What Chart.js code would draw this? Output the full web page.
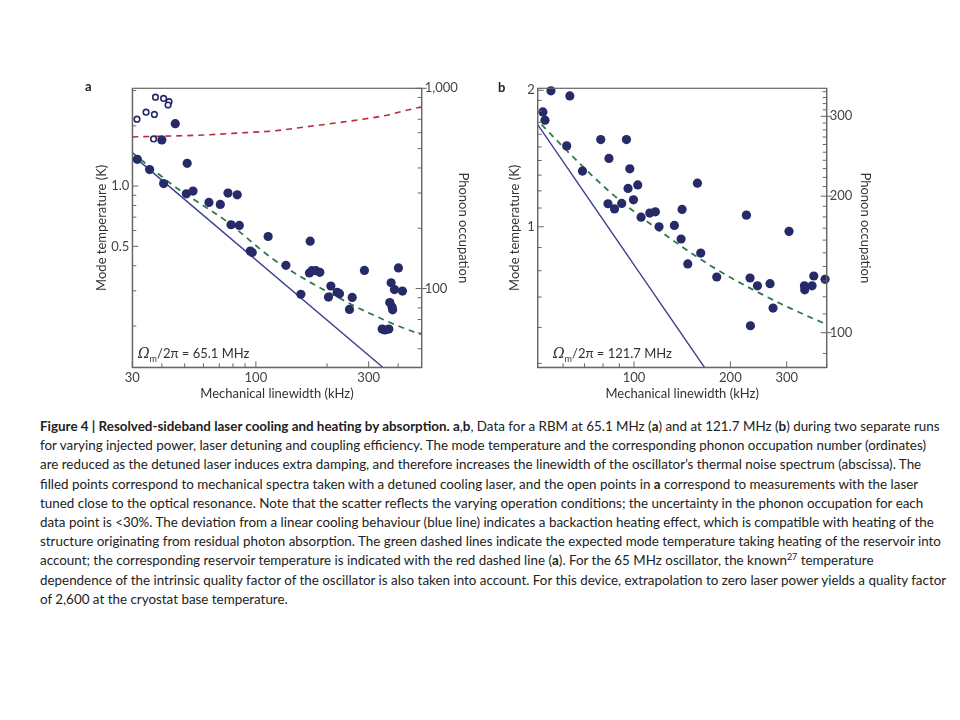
<!DOCTYPE html>
<html>
<head>
<meta charset="utf-8">
<script src="https://cdn.jsdelivr.net/npm/chart.js@4.4.1/dist/chart.umd.min.js"></script>
<style>
  body { margin: 0; background: #fff; width: 960px; height: 720px; position: relative; overflow: hidden; font-family: Lato, "Noto Sans", sans-serif; }
  canvas { position: absolute; }
  .panel { position: absolute; font-weight: bold; font-size: 13px; color: #222; }
  .om { position: absolute; font-size: 13px; color: #333; white-space: nowrap; line-height: 16px; }
  .om i { font-size: 14px; font-family: "DejaVu Serif", serif; }
  .om sub { font-size: 9px; }
  .cap { position: absolute; left: 40px; top: 417px; font-size: 13.4px; line-height: 19.2px; color: #222; white-space: nowrap; }
  .cap sup { font-size: 9px; line-height: 0; }
</style>
</head>
<body>
<canvas id="chartA" width="400" height="328" style="left:80px;top:76px;width:400px;height:328px"></canvas>
<canvas id="chartB" width="400" height="328" style="left:490px;top:76px;width:400px;height:328px"></canvas>
<div class="panel" style="left:85px;top:78px">a</div>
<div class="panel" style="left:498px;top:79px">b</div>
<div class="om" style="left:138px;top:345px"><i>Ω</i><sub>m</sub>/2π = 65.1 MHz</div>
<div class="om" style="left:553px;top:345px"><i>Ω</i><sub>m</sub>/2π = 121.7 MHz</div>
<div class="cap">
<b>Figure 4 | Resolved-sideband laser cooling and heating by absorption. a</b>,<b>b</b>, Data for a RBM at 65.1 MHz (<b>a</b>) and at 121.7 MHz (<b>b</b>) during two separate runs<br>
for varying injected power, laser detuning and coupling efficiency. The mode temperature and the corresponding phonon occupation number (ordinates)<br>
are reduced as the detuned laser induces extra damping, and therefore increases the linewidth of the oscillator’s thermal noise spectrum (abscissa). The<br>
filled points correspond to mechanical spectra taken with a detuned cooling laser, and the open points in <b>a</b> correspond to measurements with the laser<br>
tuned close to the optical resonance. Note that the scatter reflects the varying operation conditions; the uncertainty in the phonon occupation for each<br>
data point is &lt;30%. The deviation from a linear cooling behaviour (blue line) indicates a backaction heating effect, which is compatible with heating of the<br>
structure originating from residual photon absorption. The green dashed lines indicate the expected mode temperature taking heating of the reservoir into<br>
account; the corresponding reservoir temperature is indicated with the red dashed line (<b>a</b>). For the 65 MHz oscillator, the known<sup>27</sup> temperature<br>
dependence of the intrinsic quality factor of the oscillator is also taken into account. For this device, extrapolation to zero laser power yields a quality factor<br>
of 2,600 at the cryostat base temperature.
</div>
<script>
// ---- panel a (65.1 MHz) : [linewidth kHz, mode temperature K]
var aFilled = [[40.0,1.70],[45.6,2.05],[31.5,1.36],[35.5,1.21],[40.7,1.03],[51.2,1.30],[50.8,0.915],[54.2,0.944],
  [63.3,0.829],[70.7,0.810],[76.2,0.923],[83.4,0.905],[78.5,0.641],[85.1,0.636],[94.7,0.474],[96.5,0.466],
  [112.7,0.560],[169.7,0.531],[134,0.402],[155,0.288],[168.5,0.368],[172.5,0.378],[179.4,0.378],[186.5,0.371],
  [207.6,0.317],[202.8,0.279],[220.8,0.295],[225.8,0.290],[248.9,0.242],[255.5,0.278],[287.9,0.379],
  [342.2,0.193],[351.3,0.191],[365.2,0.193],[368.6,0.262],[377,0.249],[379,0.241],[373.5,0.329],[401,0.390],
  [385.8,0.304],[417,0.299]];
var aOpen = [[31.4,2.16],[34.3,2.34],[37.2,2.28],[37.6,2.78],[40.7,2.74],[42.9,2.64],[42.5,2.54],[36.9,1.72]];
var aBlue = [[31.5,1.36],[344,0.1244]];
var aGreen = [[30,1.47],[45.6,0.99],[74,0.676],[117,0.436],[159,0.346],[220,0.28],[304,0.231],[478,0.185],[503,0.182]];
var aRed = [[30,1.76],[60,1.80],[90,1.85],[121,1.89],[159,1.97],[220,2.07],[300,2.18],[358,2.26],[420,2.37],[503,2.49]];

var aXTicks = [30,40,50,60,70,80,90,100,200,300,400];
var aXLabels = ['30','','','','','','','100','','300',''];
var aYTicks = [0.2,0.3,0.4,0.5,0.6,0.7,0.8,0.9,1,2,3];
var aYLabels = ['','','','0.5','','','','','1.0','',''];
var aY2Ticks = [50,60,70,80,90,100,200,300,400,500,600,700,800,900,1000];
var aY2Labels = ['','','','','','100','','','','','','','','','1,000'];

// ---- panel b (121.7 MHz)
var bFilled = [[55.0,1.994],[63.0,1.943],[51.9,1.792],[52.7,1.718],[61.6,1.508],[78.7,1.557],[94.7,1.557],
  [83.5,1.415],[69.0,1.327],[97.0,1.342],[95.8,1.215],[102.7,1.237],[99.6,1.147],[82.9,1.124],[86.9,1.095],
  [91.5,1.126],[105.2,1.050],[112.0,1.072],[116.6,1.079],[119.7,1.0],[133.7,1.007],[141.3,1.092],[140.3,0.940],
  [157.8,1.248],[161.6,0.875],[147.2,0.828],[181.3,0.775],[224.5,1.061],[230.4,0.771],[243,0.741],[266.1,0.749],
  [271.9,0.662],[231.1,0.605],[305,0.977],[340.8,0.741],[341.5,0.726],[360,0.741],[364.5,0.779],[395.3,0.766]];
var bBlue = [[50,1.68],[166,0.49]];
var bGreen = [[51.4,1.68],[61.5,1.475],[84,1.194],[117.5,0.992],[172.5,0.823],[247,0.714],[390,0.614],[400,0.61]];

var bXTicks = [60,70,80,90,100,200,300,400];
var bXLabels = ['','','','','100','200','300',''];
var bYTicks = [0.5,0.6,0.7,0.8,0.9,1,1.1,1.2,1.3,1.4,1.5,1.6,1.7,1.8,1.9,2];
var bYLabels = ['','','','','','1','','','','','','','','','','2'];
var bY2Ticks = [90,100,110,120,130,140,150,160,170,180,190,200,210,220,230,240,250,260,270,280,290,300,310,320,330,340];
var bY2Labels = bY2Ticks.map(function (v) { return (v % 100 === 0) ? String(v) : ''; });

var navy = '#262a68';
var axisColor = '#666';
var textColor = '#444';
var tickFont = { family: 'Lato', size: 13 };

function pts(arr) { return arr.map(function (p) { return { x: p[0], y: p[1] }; }); }

function fixedTicks(vals, labels) {
  return {
    afterBuildTicks: function (s) { s.ticks = vals.map(function (v) { return { value: v }; }); },
    callback: function (v) {
      for (var i = 0; i < vals.length; i++) if (Math.abs(vals[i] - v) < 1e-9 * vals[i] + 1e-12) return labels[i];
      return '';
    }
  };
}

// box outline + inward tick marks
var frameTicks = {
  id: 'frameTicks',
  afterDraw: function (chart) {
    var ctx = chart.ctx, a = chart.chartArea;
    ctx.save();
    ctx.strokeStyle = axisColor;
    ctx.lineWidth = 1.2;
    ctx.strokeRect(a.left, a.top, a.right - a.left, a.bottom - a.top);
    ctx.lineWidth = 1;
    ['x', 'y', 'y2'].forEach(function (id) {
      var s = chart.scales[id];
      s.ticks.forEach(function (t) {
        var p = s.getPixelForValue(t.value);
        var len = t.label ? 6 : 4;
        ctx.beginPath();
        if (id === 'x') { ctx.moveTo(p, a.bottom); ctx.lineTo(p, a.bottom - len); }
        else if (id === 'y') { ctx.moveTo(a.left, p); ctx.lineTo(a.left + len, p); }
        else { ctx.moveTo(a.right + (t.label ? 5 : 0), p); ctx.lineTo(a.right - len, p); }
        ctx.stroke();
      });
    });
    ctx.restore();
  }
};

function axis(pos, min, max, vals, labels, size, title, titlePad) {
  var ft = fixedTicks(vals, labels);
  return {
    type: 'logarithmic', position: pos, min: min, max: max,
    afterBuildTicks: ft.afterBuildTicks,
    afterFit: function (s) { if (pos === 'bottom') s.height = size; else s.width = size; },
    grid: { display: false, drawTicks: false },
    border: { display: true, color: axisColor, width: 1.2 },
    ticks: { autoSkip: false, maxRotation: 0, padding: 3, color: textColor, font: tickFont, callback: ft.callback },
    title: { display: true, text: title, color: '#333', font: { family: 'Lato', size: 13 }, padding: titlePad }
  };
}

function makeChart(id, cfg) {
  var datasets = [
    { type: 'scatter', data: pts(cfg.filled), pointRadius: 4.6, pointBackgroundColor: navy, pointBorderWidth: 0, clip: false, yAxisID: 'y' }
  ];
  if (cfg.open) datasets.push({ type: 'scatter', data: pts(cfg.open), pointRadius: 2.8, pointBackgroundColor: '#fff', pointBorderColor: navy, pointBorderWidth: 1.6, clip: false, yAxisID: 'y' });
  datasets.push({ type: 'line', data: pts(cfg.blue), borderColor: '#3a3e92', borderWidth: 1.4, pointRadius: 0, fill: false, yAxisID: 'y' });
  datasets.push({ type: 'line', data: pts(cfg.green), borderColor: '#2e7a4c', borderWidth: 1.8, borderDash: [6, 5], pointRadius: 0, fill: false, cubicInterpolationMode: 'monotone', yAxisID: 'y' });
  if (cfg.red) datasets.push({ type: 'line', data: pts(cfg.red), borderColor: '#b5303e', borderWidth: 1.6, borderDash: [6, 5], pointRadius: 0, fill: false, cubicInterpolationMode: 'monotone', yAxisID: 'y' });

  new Chart(document.getElementById(id), {
    data: { datasets: datasets },
    plugins: [frameTicks],
    options: {
      responsive: false,
      animation: false,
      layout: { padding: { left: 0, top: 12.3, right: 0, bottom: 0 } },
      plugins: { legend: { display: false }, tooltip: { enabled: false } },
      scales: {
        x: axis('bottom', cfg.xMin, cfg.xMax, cfg.xTicks, cfg.xLabels, 36.7, 'Mechanical linewidth (kHz)', { top: 0, bottom: 2 }),
        y: axis('left', cfg.yMin, cfg.yMax, cfg.yTicks, cfg.yLabels, cfg.leftW, 'Mode temperature (K)', { top: cfg.leftPad, bottom: 0 }),
        y2: axis('right', cfg.y2Min, cfg.y2Max, cfg.y2Ticks, cfg.y2Labels, cfg.rightW, 'Phonon occupation', { top: cfg.rightPad, bottom: 0 })
      }
    }
  });
}

makeChart('chartA', {
  filled: aFilled, open: aOpen, blue: aBlue, green: aGreen, red: aRed,
  xMin: 30, xMax: 503, yMin: 0.1244, yMax: 3.08, y2Min: 40.4, y2Max: 1000,
  xTicks: aXTicks, xLabels: aXLabels, yTicks: aYTicks, yLabels: aYLabels, y2Ticks: aY2Ticks, y2Labels: aY2Labels,
  leftW: 52.3, rightW: 58.3, leftPad: 14, rightPad: 9.5
});

makeChart('chartB', {
  filled: bFilled, blue: bBlue, green: bGreen,
  xMin: 50, xMax: 400, yMin: 0.49, yMax: 2.02, y2Min: 0.49 * 171.2, y2Max: 2.02 * 171.2,
  xTicks: bXTicks, xLabels: bXLabels, yTicks: bYTicks, yLabels: bYLabels, y2Ticks: bY2Ticks, y2Labels: bY2Labels,
  leftW: 47.7, rightW: 63.3, leftPad: 17, rightPad: 17
});
</script>
</body>
</html>
